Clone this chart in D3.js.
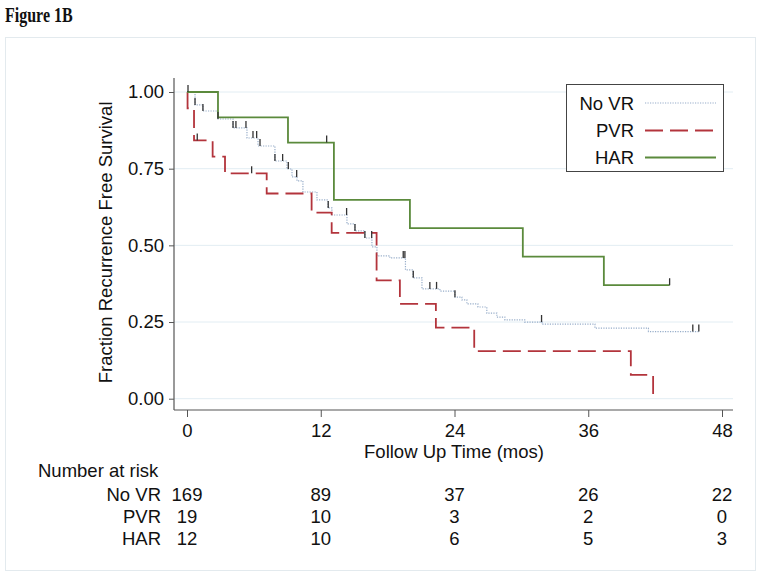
<!DOCTYPE html>
<html>
<head>
<meta charset="utf-8">
<script src="https://cdn.jsdelivr.net/npm/d3@7"></script>
<style>
  html, body { margin: 0; padding: 0; background: #fff; }
  svg { display: block; }
  text { font-family: "Liberation Sans", Arial, Helvetica, sans-serif; fill: #111; }
</style>
</head>
<body>
<svg id="chart" width="760" height="576"></svg>
<script>
// ---------------- data ----------------
const xTicks = [0, 12, 24, 36, 48];
const yTicks = [0, 0.25, 0.5, 0.75, 1.0];
const groups = ["No VR", "PVR", "HAR"];

// No VR: event times (months) and survival after each step
const noVRTime = [0, 0.72, 1.43, 2.78, 4.13, 5.38, 6.37, 7.89, 8.97, 9.42, 9.87, 10.40, 11.66, 12.65, 13.0,
  14.35, 15.07, 15.96, 16.59, 17.04, 18.2, 19.6, 20.27, 21.08, 22.69, 24.04, 24.66, 25.11, 26.1, 26.9,
  27.8, 28.52, 30.3, 31.85, 36.6, 41.4];
const noVRSurv = [1.0, 0.958, 0.938, 0.912, 0.883, 0.850, 0.824, 0.775, 0.749, 0.723, 0.710, 0.674, 0.648, 0.622, 0.599,
  0.570, 0.547, 0.524, 0.495, 0.466, 0.459, 0.420, 0.394, 0.358, 0.351, 0.331, 0.322, 0.309, 0.299, 0.279,
  0.266, 0.257, 0.250, 0.243, 0.230, 0.219];
const noVREnd = 45.92;
const noVRCensor = [0.09, 0.72, 1.43, 2.78, 4.13, 4.39, 5.29, 5.92, 6.25, 6.55, 7.89, 8.58, 9.09, 9.84, 12.67,
  14.32, 15.07, 15.96, 16.57, 19.40, 19.55, 20.30, 21.79, 22.39, 24.04, 31.81, 45.38, 45.92];

// PVR
const pvrTime = [0, 0.05, 0.63, 2.30, 3.41, 7.15, 11.18, 12.98, 17.01, 19.10, 22.33, 25.77, 39.82, 41.82];
const pvrSurv = [1.0, 0.947, 0.842, 0.789, 0.735, 0.669, 0.607, 0.541, 0.386, 0.309, 0.232, 0.155, 0.078, 0.0];
const pvrEnd = 41.82;
const pvrCensor = [0.92, 5.80];

// HAR
const harTime = [0, 2.78, 9.06, 13.18, 20.0, 30.13, 37.4];
const harSurv = [1.0, 0.917, 0.835, 0.648, 0.556, 0.463, 0.370];
const harEnd = 43.3;
const harCensor = [12.53, 43.3];

// number at risk
const riskNoVR = [169, 89, 37, 26, 22];
const riskPVR = [19, 10, 3, 2, 0];
const riskHAR = [12, 10, 6, 5, 3];

// ---------------- drawing ----------------
const FS = "18.5px";
const svg = d3.select("#chart");
const x = d3.scaleLinear().domain([0, 48]).range([187, 722]);
const y = d3.scaleLinear().domain([0, 1]).range([398.7, 92]);
const axisX = 174, axisY = 410, plotTop = 78, plotRight = 733;

// outer frame
svg.append("rect").attr("x", 5.5).attr("y", 37.5).attr("width", 750).attr("height", 533)
  .attr("fill", "none").attr("stroke", "#e3eaee").attr("stroke-width", 1);

svg.append("text").attr("transform", "translate(5,22) scale(0.8,1)")
  .style("font-family", "'Liberation Serif', 'Times New Roman', serif")
  .style("font-weight", "bold").style("font-size", "20px").text("Figure 1B");

// grid
svg.append("g").selectAll("line").data(yTicks).join("line")
  .attr("x1", axisX).attr("x2", plotRight)
  .attr("y1", d => y(d)).attr("y2", d => y(d))
  .attr("stroke", "#e2edf3").attr("stroke-width", 1);

// y axis
const gy = svg.append("g").attr("transform", `translate(${axisX},0)`)
  .call(d3.axisLeft(y).tickValues(yTicks).tickFormat(d3.format(".2f")).tickSize(5).tickPadding(5));
gy.select(".domain").remove();
gy.selectAll(".tick line").attr("stroke", "#555");
gy.selectAll(".tick text").style("font-size", FS).style("font-family", "'Liberation Sans', Arial, sans-serif").attr("fill", "#111");
svg.append("line").attr("x1", axisX).attr("x2", axisX).attr("y1", plotTop).attr("y2", axisY)
  .attr("stroke", "#555").attr("stroke-width", 1.2);

// x axis
const gx = svg.append("g").attr("transform", `translate(0,${axisY})`)
  .call(d3.axisBottom(x).tickValues(xTicks).tickSize(7).tickPadding(7));
gx.select(".domain").remove();
gx.selectAll(".tick line").attr("stroke", "#555");
gx.selectAll(".tick text").style("font-size", FS).style("font-family", "'Liberation Sans', Arial, sans-serif").attr("fill", "#111");
svg.append("line").attr("x1", axisX).attr("x2", plotRight).attr("y1", axisY).attr("y2", axisY)
  .attr("stroke", "#555").attr("stroke-width", 1.2);

// axis titles
svg.append("text").attr("transform", `translate(112,${(y(0) + y(1)) / 2 - 3}) rotate(-90)`)
  .attr("text-anchor", "middle").style("font-size", FS).text("Fraction Recurrence Free Survival");
svg.append("text").attr("x", 454).attr("y", 458).attr("text-anchor", "middle")
  .style("font-size", FS).text("Follow Up Time (mos)");

// curves
const line = d3.line().x(d => x(d[0])).y(d => y(d[1])).curve(d3.curveStepAfter);
function pts(times, surv, end) {
  const p = times.map((t, i) => [t, surv[i]]);
  if (end > times[times.length - 1]) p.push([end, surv[surv.length - 1]]);
  return p;
}
function survAt(times, surv, t) {
  let s = surv[0];
  for (let i = 0; i < times.length; i++) if (times[i] <= t) s = surv[i];
  return s;
}

svg.append("path").attr("d", line(pts(noVRTime, noVRSurv, noVREnd)))
  .attr("fill", "none").attr("stroke", "#97adc9").attr("stroke-width", 1.2)
  .attr("stroke-dasharray", "1.2,1.3");
svg.append("path").attr("d", line(pts(pvrTime, pvrSurv, pvrEnd)))
  .attr("fill", "none").attr("stroke", "#b3343c").attr("stroke-width", 1.8)
  .attr("stroke-dasharray", "18,7");
svg.append("path").attr("d", line(pts(harTime, harSurv, harEnd)))
  .attr("fill", "none").attr("stroke", "#5b8a3c").attr("stroke-width", 1.8);

// censor ticks
function censor(cens, times, surv) {
  svg.append("g").selectAll("line").data(cens).join("line")
    .attr("x1", d => x(d)).attr("x2", d => x(d))
    .attr("y1", d => y(survAt(times, surv, d))).attr("y2", d => y(survAt(times, surv, d)) - 7)
    .attr("stroke", "#333").attr("stroke-width", 1.3);
}
censor(noVRCensor, noVRTime, noVRSurv);
censor(pvrCensor, pvrTime, pvrSurv);
censor(harCensor, harTime, harSurv);

// legend
const lg = svg.append("g");
lg.append("rect").attr("x", 566.5).attr("y", 84.5).attr("width", 157).attr("height", 87)
  .attr("fill", "#fff").attr("stroke", "#444").attr("stroke-width", 1);
const legStyles = [
  { c: "#97adc9", w: 1.2, d: "1.2,1.3" },
  { c: "#b3343c", w: 1.8, d: "18,7" },
  { c: "#5b8a3c", w: 1.8, d: null }
];
const legY = [103, 130.5, 157.5];
groups.forEach((g, i) => {
  lg.append("text").attr("x", 634).attr("y", legY[i] + 6.5).attr("text-anchor", "end")
    .style("font-size", FS).text(g);
  const l = lg.append("line").attr("x1", 645).attr("x2", 716).attr("y1", legY[i]).attr("y2", legY[i])
    .attr("stroke", legStyles[i].c).attr("stroke-width", legStyles[i].w);
  if (legStyles[i].d) l.attr("stroke-dasharray", legStyles[i].d);
});

// number at risk
svg.append("text").attr("x", 38).attr("y", 477).style("font-size", FS).text("Number at risk");
const riskRows = [riskNoVR, riskPVR, riskHAR];
const rowY = [501, 523, 545];
groups.forEach((g, i) => {
  svg.append("text").attr("x", 161).attr("y", rowY[i]).attr("text-anchor", "end")
    .style("font-size", FS).text(g);
  svg.append("g").selectAll("text").data(riskRows[i]).join("text")
    .attr("x", (d, j) => x(xTicks[j])).attr("y", rowY[i]).attr("text-anchor", "middle")
    .style("font-size", FS).text(d => d);
});
</script>
</body>
</html>
